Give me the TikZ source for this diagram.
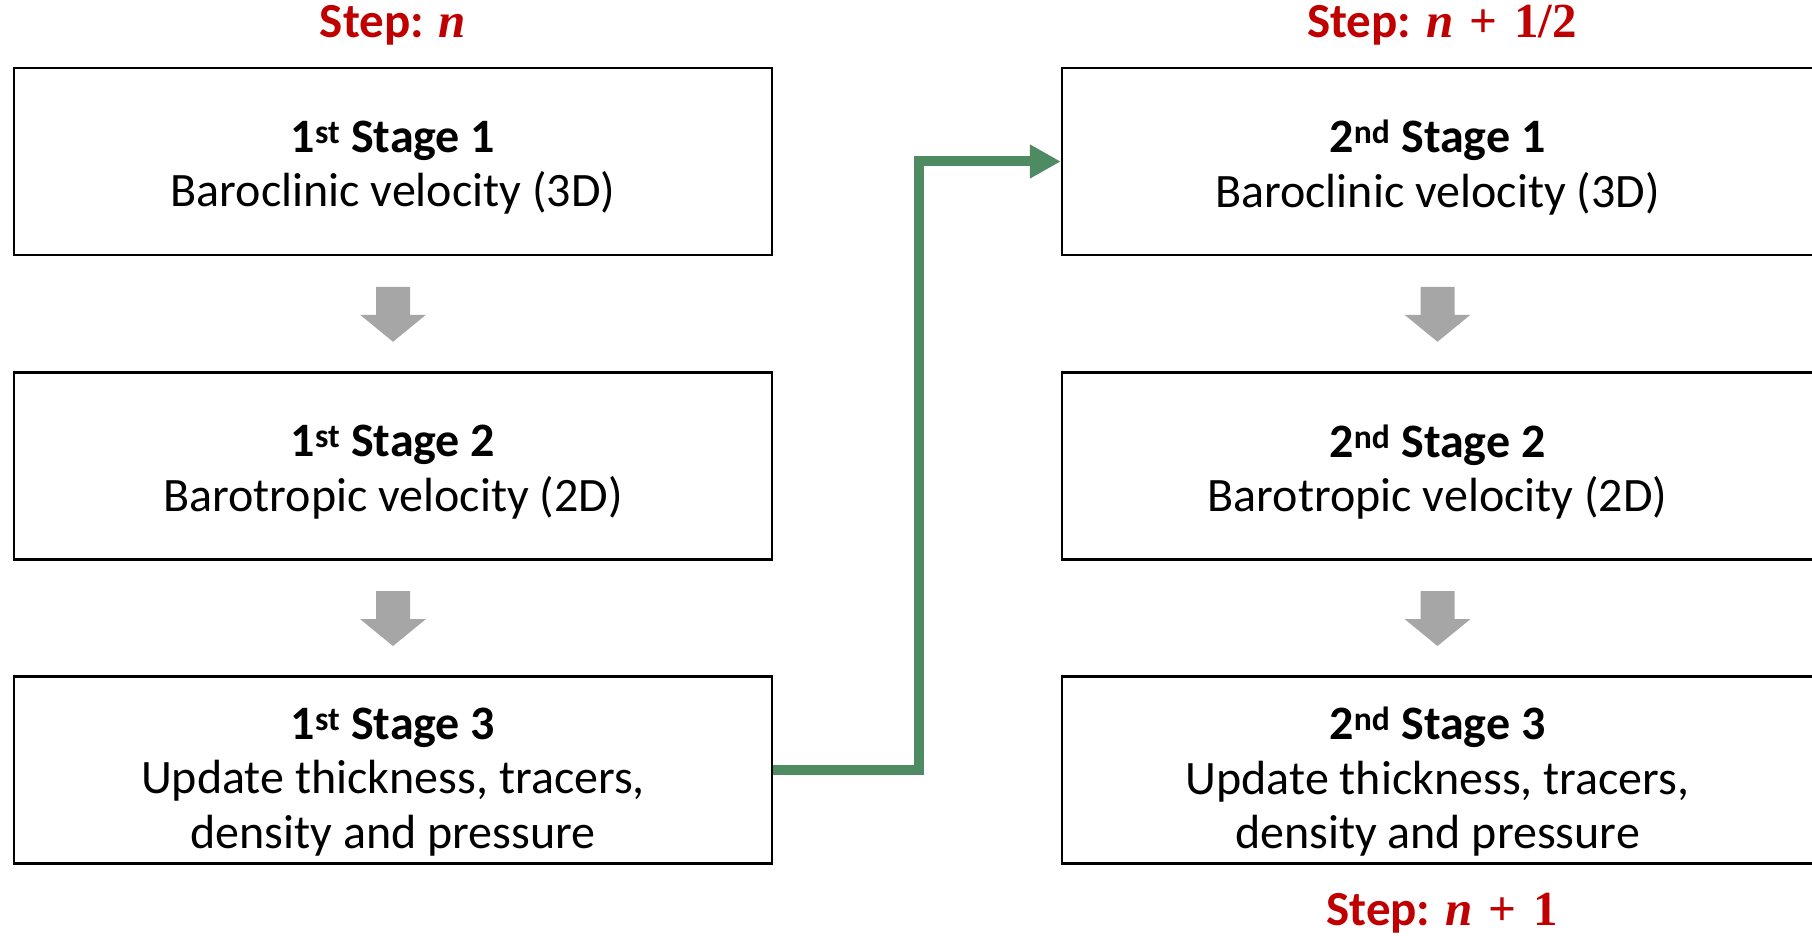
\documentclass[tikz,border=0pt]{standalone}
\usepackage{fontspec}
\setmainfont{Carlito}
\newfontfamily\mathserif{Liberation Serif}
\usetikzlibrary{arrows.meta,calc}
\definecolor{stepred}{RGB}{192,0,0}
\definecolor{flowgreen}{RGB}{78,138,98}
\definecolor{blockgray}{RGB}{166,166,166}
\begin{document}
\begin{tikzpicture}[x=1pt,y=-1pt,
  stagebox/.style={draw=black, line width=2.5pt, rectangle, minimum width=758pt, minimum height=187pt, inner sep=0pt},
  rightbox/.style={stagebox, minimum width=751pt},
  stagetext/.style={align=center, font=\fontsize{48}{54.5}\selectfont, inner sep=0pt, yshift=-6pt},
  threetext/.style={stagetext, yshift=-6pt},
  steplabel/.style={text=stepred, font=\fontsize{49}{52}\selectfont\bfseries, inner sep=0pt},
  downblock/.pic={\fill[blockgray] (-17,-27)--(17,-27)--(17,1)--(33,1)--(0,28)--(-33,1)--(-17,1)--cycle;},
]
\useasboundingbox (0,0) rectangle (1812,936);
\fill[white] (0,0) rectangle (1812,936);

\node[steplabel] (s0) at (393,25) {Step: {\mathserif\bfseries\itshape n}};
\node[steplabel] (s1) at (1442,25) {Step: {\mathserif\bfseries\itshape n}\,\,{\mathserif\bfseries +}\,\,{\mathserif\bfseries 1/2}};
\node[steplabel] (s2) at (1442,913) {Step: {\mathserif\bfseries\itshape n}\,\,{\mathserif\bfseries +}\,\,{\mathserif\bfseries 1}};

\node[stagebox] (a1) at (393,161.5) {};
\node[stagebox] (a2) at (393,466) {};
\node[stagebox] (a3) at (393,770) {};
\node[rightbox] (r1) at (1437.5,161.5) {};
\node[rightbox] (r2) at (1437.5,466) {};
\node[rightbox] (r3) at (1437.5,770) {};

\node[stagetext] (a1t) at (a1.center) {\textbf{1\textsuperscript{st} Stage 1}\\Baroclinic velocity (3D)};
\node[stagetext] (a2t) at (a2.center) {\textbf{1\textsuperscript{st} Stage 2}\\Barotropic velocity (2D)};
\node[threetext] (a3t) at (a3.center) {\textbf{1\textsuperscript{st} Stage 3}\\Update thickness, tracers,\\density and pressure};
\node[stagetext] (r1t) at (r1.center) {\textbf{2\textsuperscript{nd} Stage 1}\\Baroclinic velocity (3D)};
\node[stagetext] (r2t) at (r2.center) {\textbf{2\textsuperscript{nd} Stage 2}\\Barotropic velocity (2D)};
\node[threetext] (r3t) at (r3.center) {\textbf{2\textsuperscript{nd} Stage 3}\\Update thickness, tracers,\\density and pressure};

\pic at ($(a1.south)!0.5!(a2.north)$) {downblock};
\pic at ($(a2.south)!0.5!(a3.north)$) {downblock};
\pic at ($(r1.south)!0.5!(r2.north)$) {downblock};
\pic at ($(r2.south)!0.5!(r3.north)$) {downblock};

\coordinate (bend) at (919,161.5);
\draw[flowgreen, line width=10pt, line join=miter, -{Triangle[length=31pt,width=32pt]}] (a3.east) -| (bend) -- (r1.west);
\end{tikzpicture}
\end{document}
